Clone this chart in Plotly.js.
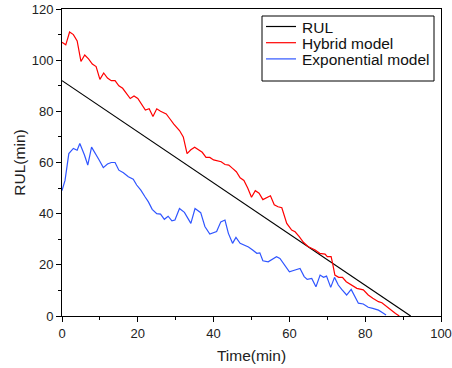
<!DOCTYPE html>
<html><head><meta charset="utf-8">
<script src="https://cdn.plot.ly/plotly-3.0.1.min.js"></script>
<style>body{margin:0;background:#fff}#c{width:452px;height:368px}</style>
</head><body><div id="c"></div>
<script>
const rulTime = [0, 92];
const rulVals = [92, 0];

const hybridTime = [0,1,2,3,4,5,6,7,8,9,10,11,12,13,14,15,16,18,19,20,22,23,24,25,26,27.5,28.5,29.5,31,32,33,34,35,36,37,38,39,40,41,42,43,44,45,46,47,48,49,50,51,52,53,55,56,57,58,58.5,59.3,60.6,61.5,62.6,63.7,65,66.8,68,69.4,70,71,71.4,72,73,74,75,76.4,77.8,79.5,80.8,82,83.5,84.4,85.7,87,88,89];
const hybridVals = [107,106,111,110,107.5,99.5,102,100.5,98.5,97.5,92.5,95,93,92,92,90,89,85,86,85,80.5,81,78,81,80,79,77,75,72.5,70,63.5,65,66,65,64,62,62,61,60.5,60.3,59.2,59,57.7,56.4,54,53,50,46.4,49,48,45.5,47,43.5,42.7,42.3,40,36.2,33.6,32.9,31,28.8,27.1,25.8,24.5,24.2,23.2,23.2,20.6,16,15.1,15.1,13.4,12.1,10.8,10.2,8.2,6.9,5.6,5.2,3.6,2.3,1,0];

const expTime = [0,0.8,1.8,3,4,4.7,5.9,6.8,7.8,8.9,9.8,10.9,12,13,14,15,16.2,17.5,18.8,19.7,20.8,21.9,22.8,23.8,25,26,27,28,29,29.8,31,32.3,34,35.1,36.6,37.7,39,40.8,41.9,43,43.9,45,45.9,47,48.3,49.2,50.3,51.4,52.2,53,54.4,55.3,56.6,57.5,58.6,60,61.5,62.8,63.9,64.7,65.9,67,68.1,69,69.8,70.9,71.9,72.9,73.8,75.1,76.3,77.1,78.2,79.5,80.8,82,83.5,84.6,85.5];
const expVals = [49,53,63.5,65.5,64.8,67.4,63,59,66,63.5,61,58,59.4,60,60,57,56,54.4,53.5,51.2,49.2,46.6,44.6,41.7,40,39.8,37.8,39,37.2,37.5,42,40.5,36.2,42,40.4,35,32,33,36.8,37.5,32.3,28.4,30.7,28.4,27.7,27,25.8,24.5,24.7,21.6,21.2,21.9,23.2,22.5,20,17.3,18,18.6,15.4,14.3,14.7,11.4,16,15.1,15.6,11.2,15.1,12.1,10.4,8.2,10.4,8.2,5,4.7,3.4,3,2.3,1.3,0.4];

const seriesNames = ['RUL', 'Hybrid model', 'Exponential model'];
const seriesColors = ['#000000', '#ff0000', '#2f55ff'];
const xTickVals = [0, 20, 40, 60, 80, 100];
const yTickVals = [0, 20, 40, 60, 80, 100, 120];

const FONT = 'Liberation Sans, Arial, sans-serif';
const W = 452, H = 368, M = {l: 62, r: 11, t: 9, b: 52};
const PW = W - M.l - M.r, PH = H - M.t - M.b;
const px = v => (v - M.l) / PW;          // pixel -> paper x
const py = v => (H - M.b - v) / PH;      // pixel -> paper y

const traces = [
  {x: rulTime, y: rulVals, name: seriesNames[0], mode: 'lines', line: {color: seriesColors[0], width: 1.2}},
  {x: hybridTime, y: hybridVals, name: seriesNames[1], mode: 'lines', line: {color: seriesColors[1], width: 1.2}},
  {x: expTime, y: expVals, name: seriesNames[2], mode: 'lines', line: {color: seriesColors[2], width: 1.2}}
];

// manual legend (box, samples, labels)
const LEG = {left: 262, right: 434, top: 16, bottom: 81, sampleX0: 266, sampleX1: 296, textX: 301, row0: 26.5, rowStep: 16.2};
const shapes = [{type: 'rect', xref: 'paper', yref: 'paper', x0: px(LEG.left), x1: px(LEG.right), y0: py(LEG.bottom), y1: py(LEG.top),
  line: {color: '#000', width: 1}, fillcolor: '#fff', layer: 'above'}];
const annotations = [];
seriesNames.forEach((n, i) => {
  const yy = LEG.row0 + i * LEG.rowStep;
  shapes.push({type: 'line', xref: 'paper', yref: 'paper', x0: px(LEG.sampleX0), x1: px(LEG.sampleX1), y0: py(yy), y1: py(yy),
    line: {color: seriesColors[i], width: 1.2}, layer: 'above'});
  annotations.push({xref: 'paper', yref: 'paper', x: px(LEG.textX), y: py(yy + 1), xanchor: 'left', yanchor: 'middle',
    text: n, showarrow: false, borderpad: 0, font: {family: FONT, size: 15.5, color: '#111'}});
});

const axisCommon = {
  showgrid: false, zeroline: false, showline: true, mirror: true,
  linecolor: '#000', linewidth: 1, ticks: 'outside', ticklen: 5, tickwidth: 1, tickcolor: '#000',
  tickfont: {family: FONT, size: 13, color: '#222'}
};
const layout = {
  width: W, height: H, margin: M,
  paper_bgcolor: '#fff', plot_bgcolor: '#fff',
  font: {family: FONT, color: '#222'},
  showlegend: false,
  shapes: shapes, annotations: annotations,
  xaxis: Object.assign({}, axisCommon, {
    range: [0, 100], tickvals: xTickVals, ticktext: xTickVals.map(String),
    minor: {dtick: 10, ticks: 'outside', ticklen: 3, tickcolor: '#000'},
    title: {text: 'Time(min)', font: {family: FONT, size: 15.5, color: '#222'}, standoff: 10}
  }),
  yaxis: Object.assign({}, axisCommon, {
    range: [0, 120], tickvals: yTickVals, ticktext: yTickVals.map(String),
    minor: {dtick: 10, ticks: 'outside', ticklen: 3, tickcolor: '#000'},
    title: {text: 'RUL(min)', font: {family: FONT, size: 15.5, color: '#222'}, standoff: 2}
  })
};
Plotly.newPlot('c', traces, layout, {displayModeBar: false, staticPlot: true});
</script></body></html>
